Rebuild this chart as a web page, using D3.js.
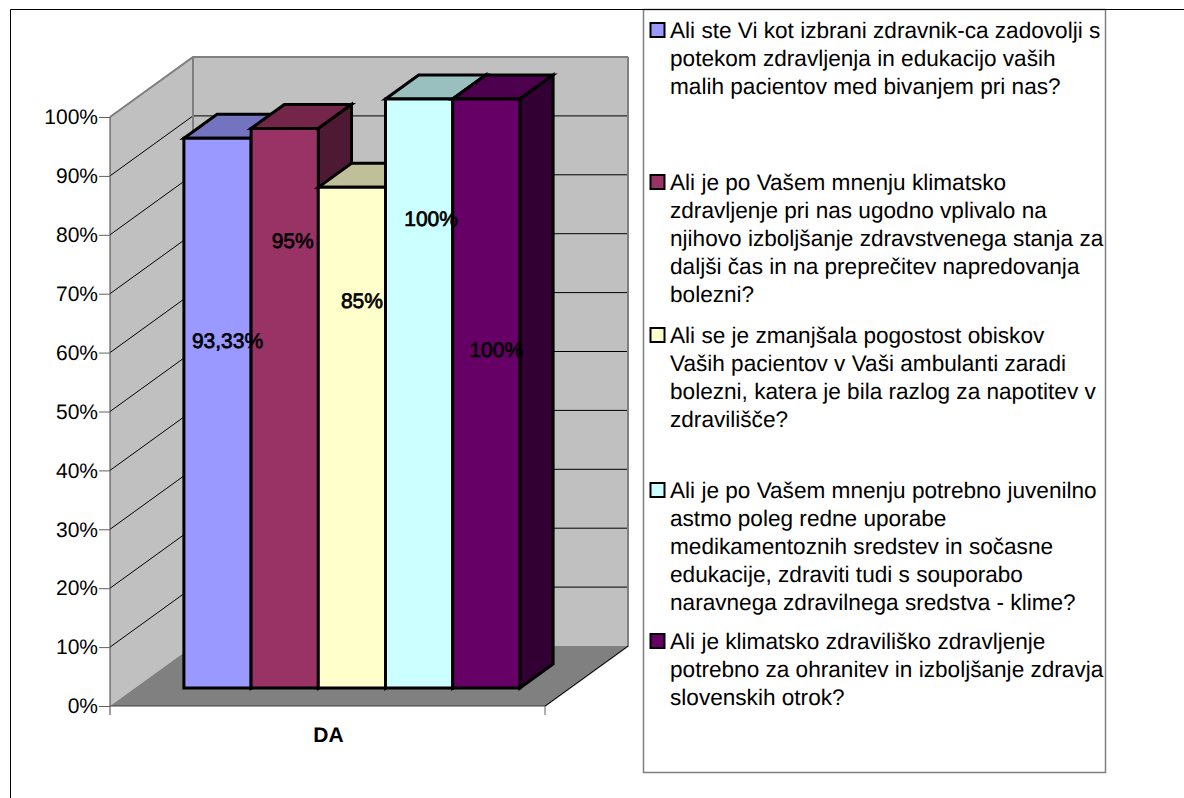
<!DOCTYPE html>
<html>
<head>
<meta charset="utf-8">
<script src="https://cdnjs.cloudflare.com/ajax/libs/d3/7.8.5/d3.min.js"></script>
<style>
html, body { margin: 0; padding: 0; background: #fff; }
svg { display: block; font-family: "Liberation Sans", Arial, sans-serif; text-rendering: geometricPrecision; }
</style>
</head>
<body>
<div id="chart"></div>
<script>
var category = "DA";
var values = [0.9333, 0.95, 0.85, 1, 1];
var valueLabels = ["93,33%", "95%", "85%", "100%", "100%"];
var colors = ["#9999ff", "#993366", "#ffffcc", "#ccffff", "#660066"];
var topColors = ["#7373bf", "#732649", "#bfbf99", "#99bfbf", "#4d004d"];
var sideColors = ["#4d4d80", "#4d1933", "#808066", "#668080", "#330033"];
var ticks = [0, 0.1, 0.2, 0.3, 0.4, 0.5, 0.6, 0.7, 0.8, 0.9, 1];
var legendLines = [
    ["Ali ste Vi kot izbrani zdravnik-ca zadovolji s", "potekom zdravljenja in edukacijo vaših", "malih pacientov med bivanjem pri nas?"],
    ["Ali je po Vašem mnenju klimatsko", "zdravljenje pri nas ugodno vplivalo na", "njihovo izboljšanje zdravstvenega stanja za", "daljši čas in na preprečitev napredovanja", "bolezni?"],
    ["Ali se je zmanjšala pogostost obiskov", "Vaših pacientov v Vaši ambulanti zaradi", "bolezni, katera je bila razlog za napotitev v", "zdravilišče?"],
    ["Ali je po Vašem mnenju potrebno juvenilno", "astmo poleg redne uporabe", "medikamentoznih sredstev in sočasne", "edukacije, zdraviti tudi s souporabo", "naravnega zdravilnega sredstva - klime?"],
    ["Ali je klimatsko zdraviliško zdravljenje", "potrebno za ohranitev in izboljšanje zdravja", "slovenskih otrok?"]
];

// layout
var width = 1184, height = 798;
var depthX = 83, depthY = -60;
var barDepth = 0.4; // share of the depth taken by the bars
var labelAt = [0.589, 0.758, 0.656, 0.796, 0.573]; // label height, as the picture has them
var labelShift = [10, 8, 10, 12, 10];
var legendTop = [30, 182, 335, 490, 641];
var lineStep = 28.2;

var svg = d3.select("#chart").append("svg")
    .attr("width", width)
    .attr("height", height);

var x = d3.scaleBand().domain([category]).range([110, 545]);
var y = d3.scaleLinear().domain([0, 1]).range([706, 117]);
var xBar = d3.scaleBand()
    .domain(d3.range(values.length))
    .range([x(category) + 49, x(category) + x.bandwidth() - 50]);

function poly(pts, fill, stroke, sw) {
    return svg.append("polygon")
        .attr("points", pts.map(function(p) { return p.join(","); }).join(" "))
        .attr("fill", fill)
        .attr("stroke", stroke || "none")
        .attr("stroke-width", sw || 0)
        .attr("stroke-linejoin", "miter");
}

var x0 = x.range()[0], x1 = x.range()[1];

// walls and floor
poly([[x0, y(0)], [x0 + depthX, y(0) + depthY], [x1 + depthX, y(0) + depthY], [x1 + depthX, y(1) + depthY], [x0 + depthX, y(1) + depthY], [x0, y(1)]], "#c0c0c0");
poly([[x0, y(0)], [x1, y(0)], [x1 + depthX, y(0) + depthY], [x0 + depthX, y(0) + depthY]], "#808080");

// gridlines
ticks.slice(1).forEach(function(t) {
    svg.append("polyline")
        .attr("points", [[x0, y(t)], [x0 + depthX, y(t) + depthY], [x1 + depthX, y(t) + depthY]].join(" "))
        .attr("fill", "none")
        .attr("stroke", "#000")
        .attr("stroke-width", 1);
});

// wall edges
svg.append("polyline")
    .attr("points", [[x0, y(1)], [x0 + depthX, y(1) + depthY], [x1 + depthX, y(1) + depthY]].join(" "))
    .attr("fill", "none").attr("stroke", "#808080").attr("stroke-width", 2);
svg.append("line")
    .attr("x1", x0 + depthX).attr("x2", x0 + depthX)
    .attr("y1", y(1) + depthY).attr("y2", y(0) + depthY)
    .attr("stroke", "#808080").attr("stroke-width", 2);
svg.append("polyline")
    .attr("points", [[x1 + depthX, y(1) + depthY], [x1 + depthX, y(0) + depthY], [x1, y(0)]].join(" "))
    .attr("fill", "none").attr("stroke", "#808080").attr("stroke-width", 2);
svg.append("line")
    .attr("x1", x1).attr("x2", x1 + depthX)
    .attr("y1", y(0)).attr("y2", y(0) + depthY)
    .attr("stroke", "#000").attr("stroke-width", 1);

// axes
var yAxis = d3.axisLeft(y)
    .tickValues(ticks)
    .tickFormat(d3.format(".0%"))
    .tickSize(11)
    .tickPadding(1);
var gy = svg.append("g")
    .attr("transform", "translate(" + x0 + ",0)")
    .call(yAxis);
gy.select(".domain").attr("stroke", "#404040").attr("d", "M0," + y(1) + "V" + (y(0) + 9));
gy.selectAll(".tick line").attr("stroke", "#606060");
gy.selectAll("text").attr("font-size", 21).attr("font-family", "Liberation Sans").attr("fill", "#000");

svg.append("line")
    .attr("x1", x0).attr("x2", x1).attr("y1", y(0)).attr("y2", y(0))
    .attr("stroke", "#404040").attr("stroke-width", 1);
svg.append("line")
    .attr("x1", x1).attr("x2", x1).attr("y1", y(0)).attr("y2", y(0) + 9)
    .attr("stroke", "#606060").attr("stroke-width", 1);
svg.append("text")
    .attr("x", x0 + x.bandwidth() / 2 + 1)
    .attr("y", 742)
    .attr("text-anchor", "middle")
    .attr("font-size", 21)
    .attr("font-weight", "bold")
    .text(category);

// bars, back to front is left to right here
var offX = depthX * 0.3, offY = depthY * 0.3;
var dx = depthX * barDepth, dy = depthY * barDepth;
values.forEach(function(v, i) {
    var l = xBar(i) + offX, r = l + xBar.bandwidth();
    var b = y(0) + offY, t = y(v) + offY;
    poly([[l, t], [l + dx, t + dy], [r + dx, t + dy], [r, t]], topColors[i], "#000", 3);
    poly([[r, t], [r + dx, t + dy], [r + dx, b + dy], [r, b]], sideColors[i], "#000", 3);
    poly([[l, t], [r, t], [r, b], [l, b]], colors[i], "#000", 3);
});

// value labels sit on top of all bars, thickened regular face like the original
values.forEach(function(v, i) {
    svg.append("text")
        .attr("x", xBar(i) + offX + xBar.bandwidth() / 2 + labelShift[i])
        .attr("y", y(labelAt[i]) + offY)
        .attr("text-anchor", "middle")
        .attr("dominant-baseline", "central")
        .attr("font-size", 21)
        .attr("stroke", "#000")
        .attr("stroke-width", 0.7)
        .text(valueLabels[i]);
});

// legend
svg.append("rect")
    .attr("x", 643.5).attr("y", 9.5).attr("width", 462).attr("height", 763)
    .attr("fill", "none").attr("stroke", "#808080").attr("stroke-width", 1.5);

legendLines.forEach(function(lines, i) {
    svg.append("rect")
        .attr("x", 650.5).attr("y", legendTop[i] - 7)
        .attr("width", 14).attr("height", 14)
        .attr("fill", colors[i])
        .attr("stroke", "#000").attr("stroke-width", 2);
    lines.forEach(function(s, j) {
        svg.append("text")
            .attr("x", 670)
            .attr("y", legendTop[i] + j * lineStep)
            .attr("dominant-baseline", "central")
            .attr("font-size", 22.6)
            .text(s);
    });
});

// outer frame
svg.append("path")
    .attr("d", "M10.5,798V9.5H1184")
    .attr("fill", "none").attr("stroke", "#000").attr("stroke-width", 1);
</script>
</body>
</html>
